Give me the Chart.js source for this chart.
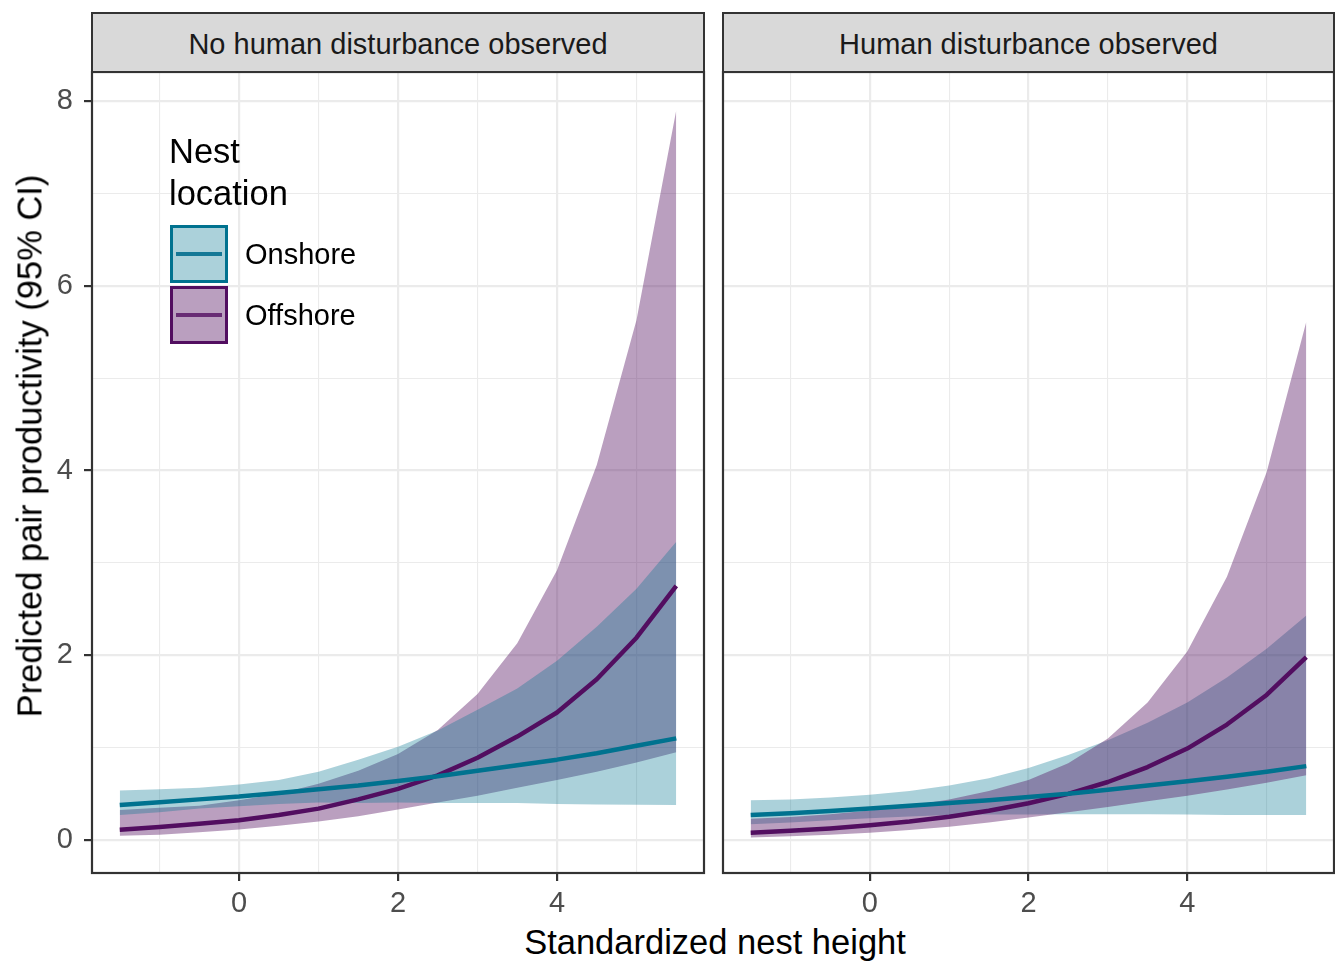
<!DOCTYPE html>
<html>
<head>
<meta charset="utf-8">
<script src="https://cdn.jsdelivr.net/npm/chart.js@4.4.1/dist/chart.umd.min.js"></script>
<style>
html,body{margin:0;padding:0;background:#fff;}
#root{position:relative;width:1335px;height:961px;overflow:hidden;font-family:"Liberation Sans",Arial,Helvetica,sans-serif;}
.cw{position:absolute;}
.strip{position:absolute;top:12px;height:61px;box-sizing:border-box;border:2px solid #333;background:#d9d9d9;color:#1a1a1a;font-size:29px;display:flex;align-items:center;justify-content:center;white-space:nowrap;padding-top:3px;}
.ytitle{position:absolute;left:30px;top:446px;transform:translate(-50%,-50%) rotate(-90deg);font-size:34.5px;color:#000;white-space:nowrap;}
.xtitle{position:absolute;left:715px;top:942px;transform:translate(-50%,-50%);font-size:34.5px;color:#000;white-space:nowrap;}
.legtitle{position:absolute;left:169px;top:130px;font-size:34.5px;line-height:42px;color:#000;}
.key{position:absolute;left:170px;width:58px;height:58px;box-sizing:border-box;border:3px solid;}
.key .ln{position:absolute;left:3px;right:3px;top:50%;height:4.5px;margin-top:-2.25px;}
.klab{position:absolute;left:245px;height:58px;display:flex;align-items:center;font-size:29px;color:#000;}
</style>
</head>
<body>
<div id="root">
  <div class="cw" style="left:0;top:62px;width:712px;height:860px;"><canvas id="c1" width="712" height="860"></canvas></div>
  <div class="cw" style="left:700px;top:62px;width:635px;height:860px;"><canvas id="c2" width="635" height="860"></canvas></div>
  <div class="strip" id="s1" style="left:91px;width:614px;"></div>
  <div class="strip" id="s2" style="left:722px;width:613px;"></div>
  <div class="ytitle" id="yt"></div>
  <div class="xtitle" id="xt"></div>
  <div class="legtitle" id="lt"></div>
  <div class="key" id="k1" style="top:225px;"><div class="ln"></div></div>
  <div class="key" id="k2" style="top:286px;"><div class="ln"></div></div>
  <div class="klab" id="l1" style="top:225px;"></div>
  <div class="klab" id="l2" style="top:286px;"></div>
</div>
<script>
// ---------- data ----------
const panelTitles = ["No human disturbance observed", "Human disturbance observed"];
const seriesNames = ["Onshore", "Offshore"];
const legendTitle = ["Nest", "location"];
const xAxisTitle = "Standardized nest height";
const yAxisTitle = "Predicted pair productivity (95% CI)";

const xValues = [-1.5, -1, -0.5, 0, 0.5, 1, 1.5, 2, 2.5, 3, 3.5, 4, 4.5, 5, 5.5];

// Panel 1: no human disturbance
const onshore1Mean  = [0.38, 0.41, 0.44, 0.47, 0.51, 0.55, 0.59, 0.64, 0.69, 0.75, 0.81, 0.87, 0.94, 1.02, 1.10];
const onshore1Upper = [0.535, 0.55, 0.565, 0.60, 0.65, 0.74, 0.87, 1.01, 1.185, 1.41, 1.64, 1.94, 2.31, 2.72, 3.23];
const onshore1Lower = [0.27, 0.30, 0.34, 0.365, 0.39, 0.405, 0.40, 0.405, 0.40, 0.40, 0.40, 0.39, 0.385, 0.383, 0.38];
const offshore1Mean  = [0.112, 0.14, 0.175, 0.215, 0.27, 0.34, 0.44, 0.553, 0.70, 0.89, 1.12, 1.38, 1.74, 2.19, 2.75];
const offshore1Upper = [0.325, 0.35, 0.37, 0.43, 0.50, 0.61, 0.75, 0.93, 1.19, 1.58, 2.13, 2.92, 4.06, 5.63, 7.9];
const offshore1Lower = [0.045, 0.058, 0.085, 0.115, 0.155, 0.20, 0.258, 0.33, 0.405, 0.48, 0.565, 0.65, 0.74, 0.84, 0.95];

// Panel 2: human disturbance
const onshore2Mean  = [0.27, 0.29, 0.315, 0.34, 0.37, 0.40, 0.43, 0.465, 0.50, 0.545, 0.59, 0.635, 0.685, 0.74, 0.80];
const onshore2Upper = [0.43, 0.44, 0.46, 0.49, 0.53, 0.59, 0.67, 0.78, 0.92, 1.08, 1.27, 1.49, 1.76, 2.07, 2.43];
const onshore2Lower = [0.17, 0.19, 0.215, 0.235, 0.255, 0.27, 0.275, 0.277, 0.28, 0.28, 0.278, 0.275, 0.272, 0.27, 0.27];
const offshore2Mean  = [0.08, 0.10, 0.126, 0.159, 0.20, 0.252, 0.316, 0.398, 0.50, 0.628, 0.79, 0.99, 1.25, 1.57, 1.98];
const offshore2Upper = [0.23, 0.25, 0.28, 0.32, 0.37, 0.44, 0.53, 0.65, 0.83, 1.10, 1.49, 2.04, 2.85, 3.98, 5.61];
const offshore2Lower = [0.028, 0.04, 0.057, 0.079, 0.108, 0.144, 0.189, 0.244, 0.30, 0.358, 0.419, 0.48, 0.548, 0.62, 0.70];

const majorXTicks = [0, 2, 4];
const minorXTicks = [-1, 1, 3, 5];
const majorYTicks = [0, 2, 4, 6, 8];
const minorYTicks = [1, 3, 5, 7];

// ---------- styling ----------
const FONT = '"Liberation Sans", Arial, Helvetica, sans-serif';
const ON_LINE = 'rgb(0,114,143)';
const ON_FILL = 'rgba(0,114,143,0.33)';
const OFF_LINE = 'rgb(82,14,96)';
const OFF_FILL = 'rgba(82,14,96,0.4)';
const X_MIN = -1.849, X_MAX = 5.849, Y_MIN = -0.357, Y_MAX = 8.314;

// text
document.getElementById('s1').textContent = panelTitles[0];
document.getElementById('s2').textContent = panelTitles[1];
document.getElementById('yt').textContent = yAxisTitle;
document.getElementById('xt').textContent = xAxisTitle;
document.getElementById('lt').innerHTML = legendTitle.join('<br>');
document.getElementById('l1').textContent = seriesNames[0];
document.getElementById('l2').textContent = seriesNames[1];
const k1 = document.getElementById('k1'), k2 = document.getElementById('k2');
k1.style.borderColor = ON_LINE; k1.style.background = ON_FILL; k1.firstChild.style.background = 'rgb(20,120,150)';
k2.style.borderColor = OFF_LINE; k2.style.background = OFF_FILL; k2.firstChild.style.background = 'rgb(104,44,116)';

function pts(ys) { return xValues.map((x, i) => ({ x: x, y: ys[i] })); }
function lineDs(label, ys, color, order) {
  return { label, data: pts(ys), borderColor: color, borderWidth: 4.5, pointRadius: 0, fill: false, tension: 0, order, borderJoinStyle: 'round', borderCapStyle: 'butt' };
}
function upperDs(label, ys, fillColor, order) {
  return { label, data: pts(ys), borderColor: 'rgba(0,0,0,0)', borderWidth: 0, pointRadius: 0, fill: '+1', backgroundColor: fillColor, tension: 0, order };
}
function lowerDs(label, ys, order) {
  return { label, data: pts(ys), borderColor: 'rgba(0,0,0,0)', borderWidth: 0, pointRadius: 0, fill: false, tension: 0, order };
}

const panelBorder = {
  id: 'panelBorder',
  afterDraw(chart) {
    const { ctx, chartArea: a } = chart;
    ctx.save();
    ctx.strokeStyle = '#333333';
    ctx.lineWidth = 2.2;
    ctx.strokeRect(a.left, a.top, a.right - a.left, a.bottom - a.top);
    ctx.restore();
  }
};

function isMajor(c, list) { return c && c.tick && list.includes(c.tick.value); }
function noPad(s) { s.paddingTop = 0; s.paddingBottom = 0; s.paddingLeft = 0; s.paddingRight = 0; }

function makeScales(showY) {
  return {
    x: {
      type: 'linear', min: X_MIN, max: X_MAX,
      afterBuildTicks: s => { s.ticks = minorXTicks.concat(majorXTicks).sort((a, b) => a - b).map(v => ({ value: v })); },
      afterFit: s => { s.height = 49; noPad(s); },
      ticks: { autoSkip: false, maxRotation: 0, padding: 6, color: '#4d4d4d', font: { size: 29, family: FONT },
        callback: v => majorXTicks.includes(v) ? String(v) : '' },
      grid: { color: '#ebebeb', lineWidth: c => isMajor(c, majorXTicks) ? 2.2 : 1.1,
        tickLength: 8, tickWidth: 2.2, tickColor: c => isMajor(c, majorXTicks) ? '#333333' : 'rgba(0,0,0,0)' },
      border: { display: false }
    },
    y: {
      type: 'linear', min: Y_MIN, max: Y_MAX,
      afterBuildTicks: s => { s.ticks = minorYTicks.concat(majorYTicks).sort((a, b) => a - b).map(v => ({ value: v })); },
      afterFit: s => { s.width = showY ? 92 : 0; noPad(s); },
      ticks: { display: showY, autoSkip: false, padding: 11, color: '#4d4d4d', font: { size: 29, family: FONT },
        callback: v => majorYTicks.includes(v) ? String(v) : '' },
      grid: { color: '#ebebeb', lineWidth: c => isMajor(c, majorYTicks) ? 2.2 : 1.1,
        drawTicks: showY, tickLength: 8, tickWidth: 2.2, tickColor: c => isMajor(c, majorYTicks) ? '#333333' : 'rgba(0,0,0,0)' },
      border: { display: false }
    }
  };
}

function baseOptions(showY, padding) {
  return {
    responsive: false, animation: false, devicePixelRatio: 1,
    layout: { padding },
    plugins: { legend: { display: false }, tooltip: { enabled: false } },
    scales: makeScales(showY)
  };
}

// Panel 1: onshore ribbon drawn over offshore ribbon
new Chart(document.getElementById('c1'), {
  type: 'line',
  data: { datasets: [
    lineDs(seriesNames[0], onshore1Mean, ON_LINE, 0),
    lineDs(seriesNames[1], offshore1Mean, OFF_LINE, 1),
    upperDs(seriesNames[0] + ' upper', onshore1Upper, ON_FILL, 2),
    lowerDs(seriesNames[0] + ' lower', onshore1Lower, 3),
    upperDs(seriesNames[1] + ' upper', offshore1Upper, OFF_FILL, 4),
    lowerDs(seriesNames[1] + ' lower', offshore1Lower, 5)
  ] },
  options: baseOptions(true, { top: 10, right: 8, left: 0, bottom: 0 }),
  plugins: [panelBorder]
});

// Panel 2: offshore ribbon drawn over onshore ribbon
new Chart(document.getElementById('c2'), {
  type: 'line',
  data: { datasets: [
    lineDs(seriesNames[0], onshore2Mean, ON_LINE, 0),
    lineDs(seriesNames[1], offshore2Mean, OFF_LINE, 1),
    upperDs(seriesNames[1] + ' upper', offshore2Upper, OFF_FILL, 2),
    lowerDs(seriesNames[1] + ' lower', offshore2Lower, 3),
    upperDs(seriesNames[0] + ' upper', onshore2Upper, ON_FILL, 4),
    lowerDs(seriesNames[0] + ' lower', onshore2Lower, 5)
  ] },
  options: baseOptions(false, { top: 10, right: 1, left: 23, bottom: 0 }),
  plugins: [panelBorder]
});
</script>
</body>
</html>
